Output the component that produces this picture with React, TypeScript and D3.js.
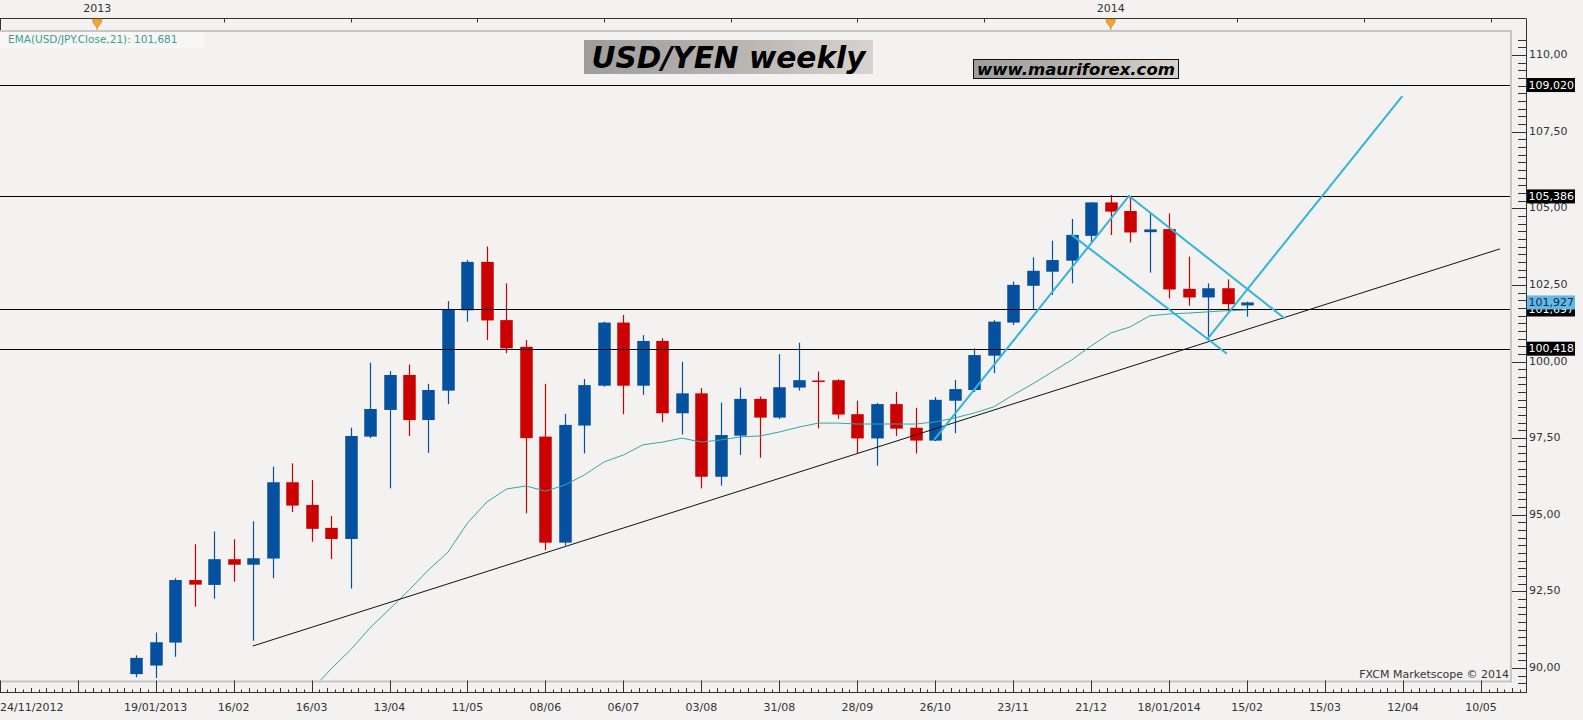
import { useEffect, useRef } from 'react';
import * as d3 from 'd3';

// weekly USD/JPY candles, first one dated 12/01/2013
const firstCandle = '12/01/2013';
const opens = [
  89.8, 90.08, 90.83, 92.87, 92.71, 93.55, 93.37, 93.57, 96.06, 95.32,
  94.57, 94.21, 97.55, 98.42, 99.56, 98.09, 99.05, 101.67, 103.25, 101.35,
  100.48, 97.55, 94.09, 97.91, 99.21, 101.27, 99.21, 100.67, 98.31, 98.96,
  96.24, 97.58, 98.78, 98.17, 99.15, 99.38, 99.39, 98.28, 97.49, 98.61,
  97.84, 97.42, 98.72, 99.07, 100.19, 101.27, 102.47, 102.93, 103.29, 104.1,
  105.19, 104.91, 104.22, 104.32, 102.37, 102.09, 102.39, 101.83,
];
const highs = [
  90.42, 91.16, 92.93, 94.04, 94.45, 94.2, 94.79, 96.57, 96.68, 96.13,
  94.96, 97.84, 99.96, 99.69, 99.9, 99.27, 101.97, 103.31, 103.75, 102.55,
  100.7, 99.27, 98.29, 99.43, 101.3, 101.52, 100.86, 100.76, 99.99, 99.13,
  98.66, 99.15, 98.86, 100.24, 100.61, 99.67, 99.42, 98.72, 98.65, 99.01,
  98.49, 98.84, 99.4, 100.43, 101.35, 102.61, 103.4, 103.94, 104.65, 105.2,
  105.43, 105.38, 104.85, 104.83, 103.42, 102.55, 102.68, 101.95,
];
const lows = [
  89.7, 89.67, 90.37, 92.0, 92.26, 92.81, 90.89, 92.93, 95.09, 94.12,
  93.56, 92.59, 97.5, 95.86, 97.57, 97.02, 98.61, 101.3, 100.7, 100.27,
  95.05, 93.85, 94.0, 97.0, 99.18, 98.28, 98.91, 98.02, 97.62, 95.86,
  95.95, 96.95, 96.86, 98.12, 99.05, 97.82, 98.13, 97.0, 96.6, 97.57,
  97.0, 97.4, 97.66, 99.0, 99.62, 101.19, 101.68, 102.17, 102.55, 103.86,
  104.13, 103.88, 102.9, 102.06, 101.82, 100.72, 101.63, 101.46,
];
const closes = [
  90.33, 90.84, 92.87, 92.72, 93.55, 93.37, 93.58, 96.06, 95.3, 94.54,
  94.21, 97.57, 98.45, 99.56, 98.09, 99.07, 101.7, 103.25, 101.34, 100.43,
  97.5, 94.09, 97.93, 99.23, 101.27, 99.21, 100.67, 98.31, 98.96, 96.24,
  97.6, 98.78, 98.17, 99.16, 99.39, 99.36, 98.27, 97.49, 98.61, 97.81,
  97.42, 98.75, 99.1, 100.21, 101.3, 102.5, 102.96, 103.31, 104.13, 105.19,
  104.89, 104.21, 104.31, 102.35, 102.09, 102.39, 101.87, 101.927,
];

// EMA(21) on close, starting at candle 10
const emaStart = 9;
const emaValues = [
  89.28, 89.97, 90.59, 91.31, 91.92, 92.54, 93.2, 93.78, 94.73, 95.42,
  95.84, 95.94, 95.77, 95.97, 96.3, 96.72, 96.95, 97.28, 97.37, 97.5,
  97.37, 97.44, 97.54, 97.57, 97.7, 97.86, 97.99, 97.99, 97.96, 97.96,
  97.96, 97.96, 98.03, 98.16, 98.32, 98.52, 98.91, 99.27, 99.66, 100.05,
  100.51, 100.93, 101.13, 101.49, 101.55, 101.58, 101.62, 101.66, 101.68,
];
const emaLabel = 'EMA(USD/JPY.Close,21): 101,681';

const levels = [109.02, 105.386, 101.697, 100.418];
const levelLabels = ['109,020', '105,386', '101,697', '100,418'];
const lastPrice = 101.927;
const lastPriceLabel = '101,927';

const priceTicks = [90, 92.5, 95, 97.5, 100, 102.5, 105, 107.5, 110];
const priceTickLabels = ['90,00', '92,50', '95,00', '97,50', '100,00', '102,50', '105,00', '107,50', '110,00'];

// bottom axis: a tick every 4 weeks from 24/11/2012
const dateTickStart = '24/11/2012';
const dateTickLabels = [
  '24/11/2012', '', '19/01/2013', '16/02', '16/03', '13/04', '11/05', '08/06', '06/07', '03/08',
  '31/08', '28/09', '26/10', '23/11', '21/12', '18/01/2014', '15/02', '15/03', '12/04', '10/05',
];

const yearLabels = ['2013', '2014'];
const yearDates = ['29/12/2012', '28/12/2013'];

// drawn lines, as [weeks after first candle, price]
const trendLines = [
  { from: [6, 90.72], to: [69.95, 103.67], color: '#111', width: 1 },
  { from: [40.97, 97.47], to: [50.94, 105.4], color: '#33b4d8', width: 2 },
  { from: [50.94, 105.4], to: [58.9, 101.42], color: '#33b4d8', width: 2 },
  { from: [48, 104.13], to: [55.93, 100.27], color: '#33b4d8', width: 2 },
  { from: [55, 100.76], to: [64.94, 108.64], color: '#33b4d8', width: 2 },
];

const W = 1583;
const H = 720;
const font = "'DejaVu Sans', sans-serif";

const App = () => {
  const svgRef = useRef(null);

  useEffect(() => {
    const parse = d3.timeParse('%d/%m/%Y');
    const start = parse(firstCandle);
    const weekDate = (w) => new Date(start.getTime() + w * 7 * 864e5);

    const plotRight = 1511;
    const plotTop = 31;
    const plotBottom = 681.5;
    const axisX = 1526;

    const x = scaleX();
    function scaleX() {
      return d3.scaleTime().domain([parse('24/11/2012'), parse('10/05/2014')]).range([-0.3, 1481]);
    }
    const y = d3.scaleLinear().domain([90, 110]).range([668, 55]);

    const svgEl = d3.select(svgRef.current);
    svgEl.selectAll('*').remove();

    const defs = svgEl.append('defs');
    defs.append('clipPath').attr('id', 'plot').append('rect')
      .attr('x', 0).attr('y', plotTop + 1).attr('width', plotRight - 1).attr('height', plotBottom - plotTop - 2);
    const grad = defs.append('linearGradient').attr('id', 'boxGrad').attr('x1', 0).attr('x2', 1).attr('y1', 0).attr('y2', 0);
    grad.append('stop').attr('offset', 0).attr('stop-color', '#9d9d9d');
    grad.append('stop').attr('offset', 0.55).attr('stop-color', '#b8b5b2');
    grad.append('stop').attr('offset', 1).attr('stop-color', '#d8d3ce');

    svgEl.append('rect').attr('width', W).attr('height', H).attr('fill', '#f3f2f0');

    // top date strip
    svgEl.append('line').attr('x1', 0).attr('x2', axisX).attr('y1', 18.5).attr('y2', 18.5).attr('stroke', '#333');
    svgEl.append('line').attr('x1', 0.5).attr('x2', 0.5).attr('y1', 18.5).attr('y2', plotTop).attr('stroke', '#333');
    const m0 = x(parse(yearDates[0]));
    const stepPx = x(weekDate(6.5)) - x(weekDate(0));
    d3.range(0, 12).forEach((k) => {
      const tx = Math.round(m0 + k * stepPx) + 0.5;
      if (tx > plotRight) return;
      svgEl.append('line').attr('x1', tx).attr('x2', tx).attr('y1', 18.5).attr('y2', 22.5).attr('stroke', '#333');
    });
    yearDates.forEach((d, i) => {
      const mx = x(parse(d));
      svgEl.append('text').attr('x', mx).attr('y', 9).attr('text-anchor', 'middle').attr('dominant-baseline', 'middle')
        .attr('font-family', font).attr('font-size', 11).attr('fill', '#333').text(yearLabels[i]);
      svgEl.append('line').attr('x1', mx).attr('x2', mx).attr('y1', 26).attr('y2', 31).attr('stroke', '#d08a20');
      svgEl.append('path')
        .attr('d', `M${mx - 4.5},19 L${mx + 4.5},19 L${mx + 4.5},22 L${mx},28 L${mx - 4.5},22 Z`)
        .attr('fill', '#f2a435').attr('stroke', '#c98222').attr('stroke-width', 0.6);
    });

    // EMA label box
    svgEl.append('rect').attr('x', 0).attr('y', plotTop + 1).attr('width', 204).attr('height', 16).attr('fill', '#f7f6f4');
    svgEl.append('text').attr('x', 8).attr('y', 39.5).attr('dominant-baseline', 'middle')
      .attr('font-family', font).attr('font-size', 10.5).attr('fill', '#3a9d96').text(emaLabel);

    const plot = svgEl.append('g').attr('clip-path', 'url(#plot)');

    // candles
    const bodyW = 12.5;
    opens.forEach((o, i) => {
      const c = closes[i];
      const cx = Math.round(x(weekDate(i))) + 0.5;
      const col = c >= o ? '#0650a0' : '#cc0000';
      plot.append('line').attr('x1', cx).attr('x2', cx).attr('y1', y(highs[i])).attr('y2', y(lows[i]))
        .attr('stroke', col).attr('stroke-width', 1.2);
      const top = y(Math.max(o, c));
      const h = Math.max(1.5, y(Math.min(o, c)) - top);
      plot.append('rect').attr('x', cx - bodyW / 2).attr('y', top).attr('width', bodyW).attr('height', h).attr('fill', col);
    });

    // horizontal levels
    levels.forEach((lv) => {
      const ly = Math.round(y(lv)) + 0.5;
      plot.append('line').attr('x1', 0).attr('x2', plotRight).attr('y1', ly).attr('y2', ly).attr('stroke', '#000').attr('stroke-width', 1.2);
    });

    // EMA
    const emaLine = d3.line()
      .x((d, i) => x(weekDate(emaStart + i)))
      .y((d) => y(d));
    plot.append('path').attr('d', emaLine(emaValues)).attr('fill', 'none').attr('stroke', '#35a6a4').attr('stroke-width', 1);

    // drawn trend lines
    trendLines.forEach((t) => {
      plot.append('line')
        .attr('x1', x(weekDate(t.from[0]))).attr('y1', y(t.from[1]))
        .attr('x2', x(weekDate(t.to[0]))).attr('y2', y(t.to[1]))
        .attr('stroke', t.color).attr('stroke-width', t.width).attr('stroke-linecap', 'round');
    });

    // title boxes
    svgEl.append('rect').attr('x', 584).attr('y', 40).attr('width', 289).attr('height', 34).attr('fill', 'url(#boxGrad)');
    svgEl.append('text').attr('x', 728.5).attr('y', 68.3).attr('text-anchor', 'middle')
      .attr('font-family', font).attr('font-size', 29.6).attr('font-weight', 'bold').attr('font-style', 'italic')
      .attr('fill', '#000').text('USD/YEN weekly');
    svgEl.append('rect').attr('x', 973.5).attr('y', 59.5).attr('width', 205).attr('height', 19)
      .attr('fill', 'url(#boxGrad)').attr('stroke', '#111').attr('stroke-width', 1);
    svgEl.append('text').attr('x', 1076).attr('y', 74.5).attr('text-anchor', 'middle')
      .attr('font-family', font).attr('font-size', 16.5).attr('font-weight', 'bold').attr('font-style', 'italic')
      .attr('fill', '#000').text('www.mauriforex.com');

    svgEl.append('text').attr('x', 1509).attr('y', 675).attr('text-anchor', 'end').attr('dominant-baseline', 'middle')
      .attr('font-family', font).attr('font-size', 11).attr('fill', '#333').text('FXCM Marketscope © 2014');

    // plot border
    svgEl.append('path')
      .attr('d', `M0,${plotTop} H${plotRight} V${plotBottom} H0`)
      .attr('fill', 'none').attr('stroke', '#c6c6c6').attr('stroke-width', 2);

    // right price axis
    svgEl.append('line').attr('x1', axisX + 0.5).attr('x2', axisX + 0.5).attr('y1', 18.5).attr('y2', 693).attr('stroke', '#333');
    d3.range(89.25, 110.6, 0.25).forEach((v) => {
      const ty = Math.round(y(v)) + 0.5;
      if (ty < plotTop + 3 || ty > 690) return;
      const major = priceTicks.some((p) => Math.abs(p - v) < 1e-6);
      svgEl.append('line').attr('x1', major ? 1512 : 1518).attr('x2', axisX).attr('y1', ty).attr('y2', ty).attr('stroke', '#333');
    });
    priceTicks.forEach((p, i) => {
      svgEl.append('text').attr('x', 1529).attr('y', y(p)).attr('dominant-baseline', 'middle')
        .attr('font-family', font).attr('font-size', 11).attr('fill', '#333').text(priceTickLabels[i]);
    });
    levels.forEach((lv, i) => {
      const ly = y(lv);
      svgEl.append('rect').attr('x', 1527).attr('y', ly - 7).attr('width', 48).attr('height', 14).attr('fill', '#000');
      svgEl.append('text').attr('x', 1528.5).attr('y', ly + 0.5).attr('dominant-baseline', 'middle')
        .attr('font-family', font).attr('font-size', 11).attr('fill', '#fff').text(levelLabels[i]);
    });
    const lpy = y(lastPrice);
    svgEl.append('rect').attr('x', 1527).attr('y', lpy - 7).attr('width', 48).attr('height', 14).attr('fill', '#63b9e6');
    svgEl.append('text').attr('x', 1528.5).attr('y', lpy + 0.5).attr('dominant-baseline', 'middle')
      .attr('font-family', font).attr('font-size', 11).attr('fill', '#0a2a50').text(lastPriceLabel);

    // bottom date axis
    svgEl.append('line').attr('x1', 0).attr('x2', axisX + 1).attr('y1', 692.5).attr('y2', 692.5).attr('stroke', '#333');
    const t0 = parse(dateTickStart);
    dateTickLabels.forEach((lab, i) => {
      const d = d3.timeDay.offset(t0, 28 * i);
      const tx = Math.round(x(d)) + 0.5;
      svgEl.append('line').attr('x1', tx).attr('x2', tx).attr('y1', 680.5).attr('y2', 692.5).attr('stroke', '#333');
      d3.range(1, 10).forEach((k) => {
        const mx = Math.round(x(d) + k * stepPx * 4 / 6.5 / 10) + 0.5;
        if (mx > axisX - 1) return;
        svgEl.append('line').attr('x1', mx).attr('x2', mx).attr('y1', k % 2 ? 689.5 : 688).attr('y2', 692.5).attr('stroke', '#333');
      });
      if (!lab) return;
      svgEl.append('text').attr('x', i === 0 ? 0 : x(d)).attr('y', 708)
        .attr('text-anchor', i === 0 ? 'start' : 'middle').attr('dominant-baseline', 'middle')
        .attr('font-family', font).attr('font-size', 11).attr('fill', '#333').text(lab);
    });
  }, []);

  return <svg ref={svgRef} width={W} height={H} style={{ position: 'absolute', left: 0, top: 0 }} />;
};

export default App;
